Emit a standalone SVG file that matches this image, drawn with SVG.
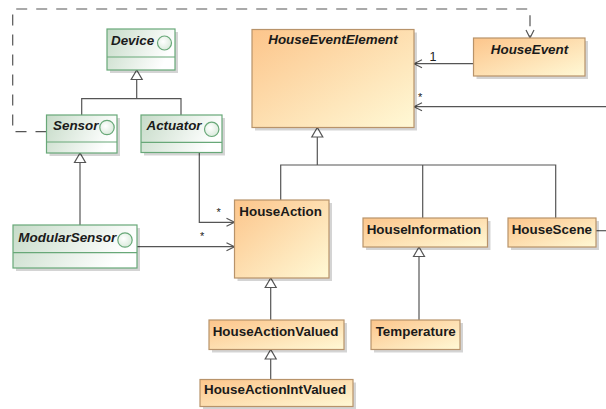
<svg xmlns="http://www.w3.org/2000/svg" width="606" height="409" viewBox="0 0 606 409">
<defs>
<linearGradient id="gG" x1="0" y1="0" x2="1" y2="0.3">
<stop offset="0" stop-color="#c6dbc8"/>
<stop offset="1" stop-color="#ffffff"/>
</linearGradient>
<linearGradient id="gO" x1="0" y1="0" x2="1" y2="1">
<stop offset="0" stop-color="#fcc58b"/>
<stop offset="1" stop-color="#fff9d6"/>
</linearGradient>
<radialGradient id="gC" cx="0.4" cy="0.4" r="0.7">
<stop offset="0" stop-color="#ffffff"/>
<stop offset="1" stop-color="#d6e8d8"/>
</radialGradient>
<marker id="open" viewBox="-10 -6 12 12" refX="0" refY="0" markerWidth="12" markerHeight="12" markerUnits="userSpaceOnUse" orient="auto">
<path d="M-8,-4 L0,0 L-8,4" fill="none" stroke="#555" stroke-width="1.2"/>
</marker>
<marker id="gen" viewBox="-12 -7 14 14" refX="0" refY="0" markerWidth="14" markerHeight="14" markerUnits="userSpaceOnUse" orient="auto">
<path d="M0,0 L-9.5,-5.5 L-9.5,5.5 Z" fill="#fff" stroke="#555" stroke-width="1.2"/>
</marker>
</defs>
<style>
.sh{fill:#000;opacity:0.17}
.g{fill:url(#gG);stroke:#68a878;stroke-width:1.2}
.o{fill:url(#gO);stroke:#b8936a;stroke-width:1.2}
.sep{stroke:#68a878;stroke-width:1.2}
.ic{fill:url(#gC);stroke:#68a878;stroke-width:1.2}
.abs{font-family:"Liberation Sans",Arial,sans-serif;font-weight:bold;font-style:italic;font-size:13.4px;fill:#1a1a1a}
.cls{font-family:"Liberation Sans",Arial,sans-serif;font-weight:bold;font-size:13.4px;fill:#1a1a1a}
.m{font-family:"Liberation Sans",Arial,sans-serif;font-size:11px;fill:#222}
.ln{fill:none;stroke:#555;stroke-width:1.2}
.dash{fill:none;stroke:#555;stroke-width:1.2;stroke-dasharray:11,9}
</style>

<g id="connectors">
<path class="dash" d="M46.5,131.7 H12.7 V9 H530 V38" marker-end="url(#open)"/>
<path class="ln" d="M81.7,115 V98.7 H181 V115"/>
<path class="ln" d="M136.7,98.7 V70" marker-end="url(#gen)"/>
<path class="ln" d="M80,225 V153" marker-end="url(#gen)"/>
<path class="ln" d="M199.3,153 V222.3 H234.5" marker-end="url(#open)"/>
<path class="ln" d="M137,246.7 H234.5" marker-end="url(#open)"/>
<path class="ln" d="M280.7,200 V165 H555.7 V218"/>
<path class="ln" d="M422.7,165 V218"/>
<path class="ln" d="M317.3,165 V127.5" marker-end="url(#gen)"/>
<path class="ln" d="M270.7,320 V278" marker-end="url(#gen)"/>
<path class="ln" d="M270.7,379.5 V349.5" marker-end="url(#gen)"/>
<path class="ln" d="M419,320 V247" marker-end="url(#gen)"/>
<path class="ln" d="M473.5,63.7 H414" marker-end="url(#open)"/>
<path class="ln" d="M606,106.7 H414" marker-end="url(#open)"/>
<path class="ln" d="M596,230.7 H606"/>
<text class="m" x="429.5" y="61" style="font-size:12.5px">1</text>
<text class="m" x="418" y="101">*</text>
<text class="m" x="216.5" y="216">*</text>
<text class="m" x="200" y="240">*</text>
</g>

<g id="Device">
<rect class="sh" x="110" y="32" width="68" height="41"/>
<rect class="g" x="107" y="29" width="68" height="41"/>
<line class="sep" x1="107" y1="57" x2="175" y2="57"/>
<circle class="ic" cx="164.5" cy="43" r="7"/>
<text class="abs" x="111" y="45">Device</text>
</g>

<g id="Sensor">
<rect class="sh" x="49.5" y="118" width="70.5" height="38"/>
<rect class="g" x="46.5" y="115" width="70.5" height="38"/>
<line class="sep" x1="46.5" y1="142" x2="117" y2="142"/>
<circle class="ic" cx="107" cy="127.5" r="7.2"/>
<text class="abs" x="53" y="129.5">Sensor</text>
</g>

<g id="Actuator">
<rect class="sh" x="144" y="118" width="81" height="37.5"/>
<rect class="g" x="141" y="115" width="81" height="37.5"/>
<line class="sep" x1="141" y1="142.3" x2="222" y2="142.3"/>
<circle class="ic" cx="211.7" cy="129.3" r="7.2"/>
<text class="abs" x="146.5" y="129.5">Actuator</text>
</g>

<g id="ModularSensor">
<rect class="sh" x="16" y="228" width="124" height="43"/>
<rect class="g" x="13" y="225" width="124" height="43"/>
<line class="sep" x1="13" y1="252.7" x2="137" y2="252.7"/>
<circle class="ic" cx="125" cy="240" r="7.2"/>
<text class="abs" x="18.3" y="241.7" textLength="98" lengthAdjust="spacingAndGlyphs">ModularSensor</text>
</g>

<g id="HouseEventElement">
<rect class="sh" x="255" y="32.5" width="162" height="98"/>
<rect class="o" x="252" y="29.5" width="162" height="98"/>
<text class="abs" x="333" y="44" text-anchor="middle">HouseEventElement</text>
</g>

<g id="HouseEvent">
<rect class="sh" x="476.5" y="41" width="111.5" height="38"/>
<rect class="o" x="473.5" y="38" width="111.5" height="38"/>
<text class="abs" x="529.5" y="53.5" text-anchor="middle">HouseEvent</text>
</g>

<g id="HouseAction">
<rect class="sh" x="237.5" y="203" width="94.5" height="78"/>
<rect class="o" x="234.5" y="200" width="94.5" height="78"/>
<text class="cls" x="239.3" y="216">HouseAction</text>
</g>

<g id="HouseInformation">
<rect class="sh" x="366" y="221" width="124.5" height="29"/>
<rect class="o" x="363" y="218" width="124.5" height="29"/>
<text class="cls" x="366.7" y="233.5">HouseInformation</text>
</g>

<g id="HouseScene">
<rect class="sh" x="511" y="221" width="88" height="29"/>
<rect class="o" x="508" y="218" width="88" height="29"/>
<text class="cls" x="511.7" y="233.5">HouseScene</text>
</g>

<g id="HouseActionValued">
<rect class="sh" x="212" y="323" width="135" height="29.5"/>
<rect class="o" x="209" y="320" width="135" height="29.5"/>
<text class="cls" x="212.7" y="336">HouseActionValued</text>
</g>

<g id="Temperature">
<rect class="sh" x="374" y="323" width="89" height="29.5"/>
<rect class="o" x="371" y="320" width="89" height="29.5"/>
<text class="cls" x="375.7" y="336">Temperature</text>
</g>

<g id="HouseActionIntValued">
<rect class="sh" x="203" y="382.5" width="153" height="27"/>
<rect class="o" x="200" y="379.5" width="153" height="27"/>
<text class="cls" x="204" y="394.3">HouseActionIntValued</text>
</g>
</svg>
